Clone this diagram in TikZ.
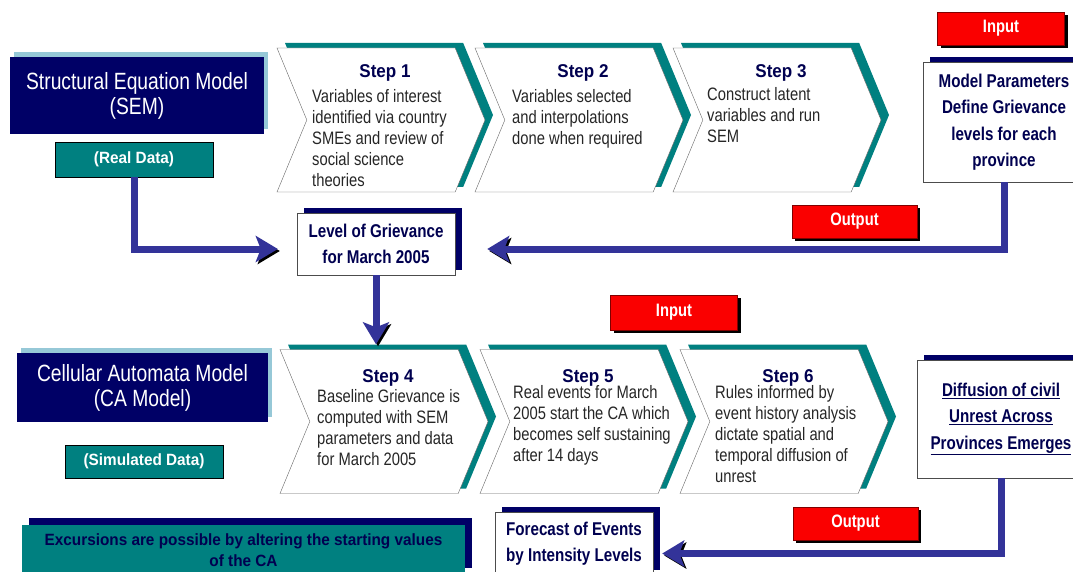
\documentclass[tikz,border=0pt]{standalone}
\usepackage{fontspec}
\setmainfont{Liberation Sans}
\newfontfamily\bodyfont[FakeStretch=0.82]{Liberation Sans}
\newfontfamily\headfont[FakeStretch=0.92]{Liberation Sans}
\newfontfamily\boxfont[FakeStretch=0.94]{Liberation Sans}
\usepackage{xcolor}
\usetikzlibrary{shapes.symbols,shadows,arrows.meta,positioning,calc}

\definecolor{navyc}{RGB}{0,0,102}
\definecolor{tealc}{RGB}{0,128,128}
\definecolor{paleblue}{RGB}{150,200,215}
\definecolor{arrblue}{RGB}{51,51,153}
\definecolor{redc}{RGB}{250,0,0}
\definecolor{labnavy}{RGB}{0,0,80}

\begin{document}
\begin{tikzpicture}[x=1pt, y=-1pt,
    model/.style={rectangle, fill=navyc, text=white, align=center, inner sep=0pt, font=\bodyfont\fontsize{23.5}{25}\selectfont, drop shadow={shadow xshift=4pt, shadow yshift=5pt, fill=paleblue, opacity=1}},
    data/.style={rectangle, draw=black, fill=tealc, text=white, inner sep=0pt, font=\boxfont\bfseries\fontsize{16.3}{20}\selectfont},
    stepbox/.style={shape=signal, signal from=west, signal to=east, signal pointer angle=135, draw=black!60, fill=white, minimum width=208pt, minimum height=144pt, inner sep=0pt, drop shadow={shadow xshift=8pt, shadow yshift=5pt, fill=tealc, opacity=1}},
    stephead/.style={anchor=base, text=labnavy, inner sep=0pt, font=\headfont\bfseries\fontsize{18.5}{21}\selectfont},
    steptext/.style={anchor=north west, align=left, text=black!85, inner sep=0pt, font=\bodyfont\fontsize{18}{21}\selectfont},
    result/.style={rectangle, draw=black!70, fill=white, text=labnavy, align=center, inner sep=0pt, font=\bodyfont\bfseries\fontsize{18.5}{26.5}\selectfont, drop shadow={shadow xshift=7pt, shadow yshift=5pt, fill=navyc, opacity=1}},
    tag/.style={rectangle, draw=red!50!black, fill=redc, text=white, minimum width=127pt, minimum height=33pt, inner sep=0pt, font=\bodyfont\bfseries\fontsize{18}{20}\selectfont, drop shadow={shadow xshift=3pt, shadow yshift=-3pt, fill=black, opacity=1}},
    bigarr/.style={line width=7pt, draw=arrblue, -{Stealth[length=22pt, width=26pt, inset=5pt]}, preaction={draw=black, transform canvas={xshift=2pt, yshift=-2pt}}}
]
    \path[use as bounding box, clip] (0,0) rectangle (1073,572);

    % models on the left
    \node [model, minimum width=254pt, minimum height=77pt] (sem) at (137,95.5) {Structural Equation Model\\(SEM)};
    \node [data, minimum width=158pt, minimum height=35pt] (realdata) at (134,159.5) {(Real Data)};
    \node [model, minimum width=251pt, minimum height=69pt] (ca) at (142.5,387.5) {Cellular Automata Model\\(CA Model)};
    \node [data, minimum width=158pt, minimum height=33pt] (simdata) at (144,461.5) {(Simulated Data)};
    \node [rectangle, fill=tealc, text=labnavy, align=center, minimum width=443pt, minimum height=50pt, inner sep=0pt, font=\boxfont\bfseries\fontsize{16.3}{21}\selectfont, drop shadow={shadow xshift=7pt, shadow yshift=7pt, fill=navyc, opacity=1}] (excursion) at (243.5,550) {Excursions are possible by altering the starting values\\of the CA};

    % SEM steps
    \node [stepbox] (step1) at (381,120) {};
    \node [stepbox] (step2) at (579,120) {};
    \node [stepbox] (step3) at (777,120) {};
    \node [stephead] (head1) at (385,78) {Step 1};
    \node [stephead] (head2) at (583,78) {Step 2};
    \node [stephead] (head3) at (781,78) {Step 3};
    \node [steptext] (text1) at (312,89) {Variables of interest\\identified via country\\SMEs and review of\\social science\\theories};
    \node [steptext] (text2) at (512,89) {Variables selected\\and interpolations\\done when required};
    \node [steptext] (text3) at (707,87) {Construct latent\\variables and run\\SEM};

    % CA steps
    \node [stepbox] (step4) at (384,421.5) {};
    \node [stepbox] (step5) at (584,421.5) {};
    \node [stepbox] (step6) at (784,421.5) {};
    \node [stephead] (head4) at (388,382) {Step 4};
    \node [stephead] (head5) at (588,382) {Step 5};
    \node [stephead] (head6) at (788,382) {Step 6};
    \node [steptext] (text4) at (317,389) {Baseline Grievance is\\computed with SEM\\parameters and data\\for March 2005};
    \node [steptext] (text5) at (513,385) {Real events for March\\2005 start the CA which\\becomes self sustaining\\after 14 days};
    \node [steptext] (text6) at (715,385) {Rules informed by\\event history analysis\\dictate spatial and\\temporal diffusion of\\unrest};

    % inputs and outputs
    \node [result, minimum width=158pt, minimum height=62pt] (grievance) at (376,244) {Level of Grievance\\for March 2005};
    \node [result, minimum width=162pt, minimum height=120pt] (params) at (1004,122) {Model Parameters\\Define Grievance\\levels for each\\province};
    \node [result, minimum width=168pt, minimum height=118pt] (diffusion) at (1001,419) {\underline{Diffusion of civil}\\\underline{Unrest Across}\\\underline{Provinces Emerges}};
    \node [result, minimum width=158pt, minimum height=63pt] (forecast) at (574,543.5) {Forecast of Events\\by Intensity Levels};

    \node [tag] (input1) at (1001,28.5) {Input};
    \node [tag, minimum width=125pt] (output1) at (854.5,221.5) {Output};
    \node [tag, minimum height=35pt] (input2) at (674,312.5) {Input};
    \node [tag, minimum width=125pt] (output2) at (855.5,523.5) {Output};

    \draw [bigarr, shorten >=19pt] (realdata.south) |- ([yshift=-5pt]grievance.west);
    \draw [bigarr, shorten >=32pt] (params.south) |- ([yshift=-5pt]grievance.east);
    \draw [bigarr, shorten >=5pt] (grievance.south) -- (grievance.south |- step4.north);
    \draw [bigarr, shorten >=9pt] (diffusion.south) |- ([yshift=-10pt]forecast.east);
\end{tikzpicture}
\end{document}
